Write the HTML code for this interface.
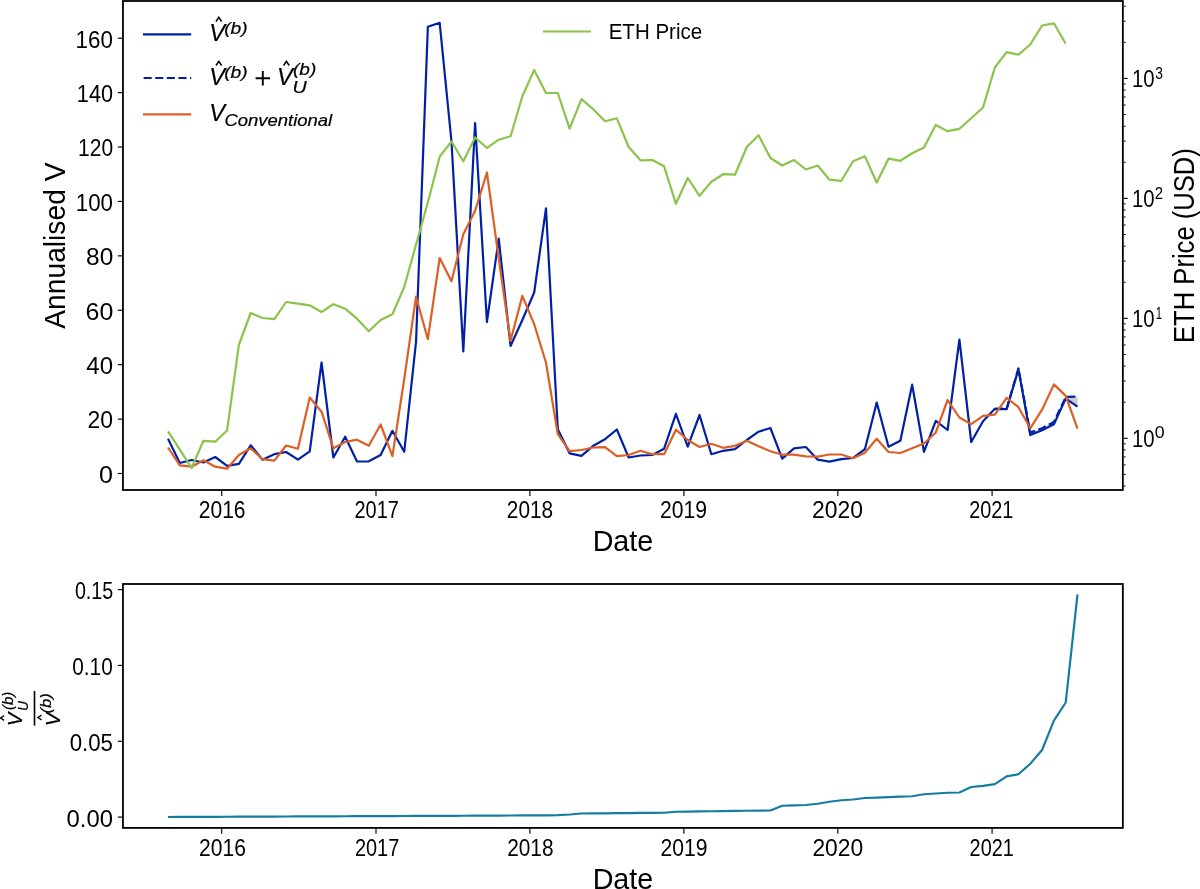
<!DOCTYPE html>
<html><head><meta charset="utf-8"><title>chart</title>
<style>
html,body{margin:0;padding:0;background:#fff;}
svg{display:block;will-change:transform;}
text{font-family:"Liberation Sans",sans-serif;fill:#000;}
.it{font-style:italic;stroke:#000;stroke-width:0.2px;}
</style></head><body>
<svg width="1200" height="889" viewBox="0 0 1200 889">
<rect x="0" y="0" width="1200" height="889" fill="#ffffff"/>
<polygon points="994.84,408.80 1006.65,409.20 1018.46,369.20 1030.28,435.10 1042.09,430.30 1053.90,424.30 1065.71,398.60 1077.52,406.70 1077.52,396.60 1065.71,397.00 1053.90,421.90 1042.09,428.30 1030.28,432.60 1018.46,368.40 1006.65,408.60 994.84,408.80" fill="#cccccc"/>
<polyline points="168.00,438.70 179.81,463.00 191.62,460.00 203.44,462.50 215.25,457.00 227.06,465.80 238.87,463.80 250.68,445.30 262.50,459.70 274.31,454.20 286.12,452.00 297.93,459.70 309.74,451.30 321.56,362.50 333.37,457.50 345.18,436.70 356.99,461.50 368.80,461.30 380.62,455.00 392.43,430.80 404.24,451.70 416.05,341.70 427.86,26.70 439.68,22.80 451.49,141.50 463.30,351.50 475.11,123.00 486.92,322.00 498.74,238.70 510.55,346.00 522.36,320.00 534.17,292.50 545.98,208.30 557.80,429.20 569.61,453.30 581.42,455.80 593.23,445.80 605.04,439.20 616.86,429.50 628.67,457.50 640.48,455.50 652.29,455.00 664.10,448.70 675.92,413.80 687.73,446.70 699.54,415.00 711.35,454.20 723.16,450.80 734.98,449.20 746.79,440.00 758.60,431.70 770.41,428.00 782.22,458.70 794.04,448.30 805.85,447.00 817.66,459.70 829.47,461.70 841.28,459.20 853.10,458.00 864.91,449.20 876.72,402.50 888.53,446.70 900.34,440.80 912.16,384.70 923.97,451.80 935.78,420.80 947.59,430.00 959.40,339.50 971.22,442.00 983.03,421.20 994.84,408.80 1006.65,409.20 1018.46,369.20 1030.28,435.10 1042.09,430.30 1053.90,424.30 1065.71,398.60 1077.52,406.70" fill="none" stroke="#0021A5" stroke-width="2.2" stroke-linejoin="round" stroke-linecap="butt"/>
<polyline points="994.84,408.80 1006.65,408.60 1018.46,368.40 1030.28,432.60 1042.09,428.30 1053.90,421.90 1065.71,397.00 1077.52,396.60" fill="none" stroke="#0021A5" stroke-width="2.2" stroke-dasharray="8.1 3.5" stroke-linejoin="round"/>
<polyline points="168.00,447.50 179.81,465.30 191.62,466.70 203.44,460.30 215.25,466.70 227.06,468.70 238.87,455.00 250.68,448.30 262.50,459.20 274.31,460.70 286.12,445.50 297.93,448.70 309.74,397.50 321.56,411.70 333.37,448.30 345.18,442.00 356.99,439.70 368.80,445.80 380.62,424.50 392.43,456.20 404.24,379.00 416.05,296.70 427.86,339.20 439.68,258.00 451.49,281.30 463.30,234.20 475.11,210.80 486.92,172.50 498.74,258.50 510.55,340.80 522.36,295.80 534.17,324.20 545.98,362.50 557.80,434.20 569.61,451.20 581.42,450.00 593.23,447.50 605.04,447.20 616.86,456.20 628.67,455.00 640.48,450.80 652.29,454.20 664.10,454.20 675.92,429.70 687.73,440.00 699.54,447.00 711.35,443.80 723.16,447.80 734.98,445.80 746.79,440.80 758.60,446.20 770.41,451.20 782.22,454.70 794.04,454.70 805.85,456.30 817.66,456.70 829.47,454.50 841.28,454.50 853.10,458.30 864.91,452.80 876.72,438.80 888.53,452.00 900.34,453.00 912.16,448.30 923.97,443.50 935.78,432.50 947.59,400.00 959.40,417.50 971.22,424.20 983.03,415.80 994.84,414.70 1006.65,397.80 1018.46,407.20 1030.28,428.30 1042.09,409.70 1053.90,384.40 1065.71,395.90 1077.52,428.60" fill="none" stroke="#DC5F25" stroke-width="2.2" stroke-linejoin="round"/>
<polyline points="168.00,431.30 179.81,449.70 191.62,468.00 203.44,440.80 215.25,441.70 227.06,430.50 238.87,345.00 250.68,313.00 262.50,318.00 274.31,319.20 286.12,302.00 297.93,303.70 309.74,305.30 321.56,312.00 333.37,304.20 345.18,308.70 356.99,318.70 368.80,331.30 380.62,320.00 392.43,314.20 404.24,287.00 416.05,244.50 427.86,202.50 439.68,156.70 451.49,141.50 463.30,161.30 475.11,137.50 486.92,148.00 498.74,139.70 510.55,136.30 522.36,96.30 534.17,70.00 545.98,93.00 557.80,93.00 569.61,128.70 581.42,99.20 593.23,109.20 605.04,121.30 616.86,118.30 628.67,147.00 640.48,160.30 652.29,160.00 664.10,166.30 675.92,203.80 687.73,178.00 699.54,195.80 711.35,181.70 723.16,174.20 734.98,174.70 746.79,147.00 758.60,135.30 770.41,158.00 782.22,165.50 794.04,160.00 805.85,169.50 817.66,165.50 829.47,179.70 841.28,180.80 853.10,161.20 864.91,156.30 876.72,182.50 888.53,158.70 900.34,160.80 912.16,153.30 923.97,147.50 935.78,125.00 947.59,131.20 959.40,128.80 971.22,118.30 983.03,107.50 994.84,67.50 1006.65,52.20 1018.46,54.70 1030.28,44.50 1042.09,25.50 1053.90,23.30 1065.71,43.80" fill="none" stroke="#8CC34B" stroke-width="2.2" stroke-linejoin="round"/>
<polyline points="168.00,817.00 179.81,816.95 191.62,816.90 203.44,816.85 215.25,816.80 227.06,816.75 238.87,816.70 250.68,816.65 262.50,816.60 274.31,816.55 286.12,816.50 297.93,816.45 309.74,816.40 321.56,816.35 333.37,816.30 345.18,816.25 356.99,816.20 368.80,816.15 380.62,816.10 392.43,816.05 404.24,816.00 416.05,815.95 427.86,815.90 439.68,815.85 451.49,815.80 463.30,815.74 475.11,815.67 486.92,815.61 498.74,815.55 510.55,815.49 522.36,815.42 534.17,815.36 545.98,815.30 557.80,815.20 569.61,814.50 581.42,813.50 593.23,813.39 605.04,813.29 616.86,813.18 628.67,813.07 640.48,812.96 652.29,812.86 664.10,812.75 675.92,811.75 687.73,811.59 699.54,811.42 711.35,811.26 723.16,811.09 734.98,810.93 746.79,810.76 758.60,810.60 770.41,810.50 782.22,805.75 794.04,805.40 805.85,805.00 817.66,803.75 829.47,801.75 841.28,800.25 853.10,799.50 864.91,798.00 876.72,797.60 888.53,797.20 900.34,796.70 912.16,796.25 923.97,794.25 935.78,793.50 947.59,792.75 959.40,792.50 971.22,787.00 983.03,785.80 994.84,784.10 1006.65,776.40 1018.46,774.20 1030.28,763.70 1042.09,750.00 1053.90,720.60 1065.71,702.50 1077.52,594.40" fill="none" stroke="#147DA0" stroke-width="2.2" stroke-linejoin="round"/>
<rect x="122.95" y="1.0" width="999.8999999999999" height="489.0" fill="none" stroke="#000" stroke-width="1.8"/>
<rect x="122.95" y="584.0" width="999.8999999999999" height="243.89999999999998" fill="none" stroke="#000" stroke-width="1.8"/>
<line x1="117.80" y1="473.50" x2="122.05" y2="473.50" stroke="#000" stroke-width="1.15"/>
<text x="99.13" y="482.90" font-size="24.2" textLength="13.94" lengthAdjust="spacingAndGlyphs">0</text>
<line x1="117.80" y1="419.09" x2="122.05" y2="419.09" stroke="#000" stroke-width="1.15"/>
<text x="87.52" y="428.49" font-size="24.2" textLength="25.55" lengthAdjust="spacingAndGlyphs">20</text>
<line x1="117.80" y1="364.68" x2="122.05" y2="364.68" stroke="#000" stroke-width="1.15"/>
<text x="86.37" y="374.08" font-size="24.2" textLength="26.73" lengthAdjust="spacingAndGlyphs">40</text>
<line x1="117.80" y1="310.26" x2="122.05" y2="310.26" stroke="#000" stroke-width="1.15"/>
<text x="85.58" y="319.66" font-size="24.2" textLength="27.77" lengthAdjust="spacingAndGlyphs">60</text>
<line x1="117.80" y1="255.85" x2="122.05" y2="255.85" stroke="#000" stroke-width="1.15"/>
<text x="86.07" y="265.25" font-size="24.2" textLength="27.21" lengthAdjust="spacingAndGlyphs">80</text>
<line x1="117.80" y1="201.44" x2="122.05" y2="201.44" stroke="#000" stroke-width="1.15"/>
<text x="75.74" y="210.84" font-size="24.2" textLength="37.26" lengthAdjust="spacingAndGlyphs">100</text>
<line x1="117.80" y1="147.03" x2="122.05" y2="147.03" stroke="#000" stroke-width="1.15"/>
<text x="78.02" y="156.43" font-size="24.2" textLength="35.05" lengthAdjust="spacingAndGlyphs">120</text>
<line x1="117.80" y1="92.62" x2="122.05" y2="92.62" stroke="#000" stroke-width="1.15"/>
<text x="76.83" y="102.02" font-size="24.2" textLength="36.20" lengthAdjust="spacingAndGlyphs">140</text>
<line x1="117.80" y1="38.20" x2="122.05" y2="38.20" stroke="#000" stroke-width="1.15"/>
<text x="75.62" y="47.60" font-size="24.2" textLength="37.31" lengthAdjust="spacingAndGlyphs">160</text>
<line x1="221.70" y1="490.90" x2="221.70" y2="495.90" stroke="#000" stroke-width="1.15"/>
<line x1="221.70" y1="828.80" x2="221.70" y2="833.80" stroke="#000" stroke-width="1.15"/>
<text x="198.71" y="518.00" font-size="24.2" textLength="46.85" lengthAdjust="spacingAndGlyphs">2016</text>
<text x="199.01" y="855.80" font-size="24.2" textLength="46.87" lengthAdjust="spacingAndGlyphs">2016</text>
<line x1="376.00" y1="490.90" x2="376.00" y2="495.90" stroke="#000" stroke-width="1.15"/>
<line x1="376.00" y1="828.80" x2="376.00" y2="833.80" stroke="#000" stroke-width="1.15"/>
<text x="354.52" y="518.00" font-size="24.2" textLength="44.28" lengthAdjust="spacingAndGlyphs">2017</text>
<text x="354.91" y="855.80" font-size="24.2" textLength="44.30" lengthAdjust="spacingAndGlyphs">2017</text>
<line x1="529.90" y1="490.90" x2="529.90" y2="495.90" stroke="#000" stroke-width="1.15"/>
<line x1="529.90" y1="828.80" x2="529.90" y2="833.80" stroke="#000" stroke-width="1.15"/>
<text x="506.87" y="518.00" font-size="24.2" textLength="46.22" lengthAdjust="spacingAndGlyphs">2018</text>
<text x="507.20" y="855.80" font-size="24.2" textLength="46.36" lengthAdjust="spacingAndGlyphs">2018</text>
<line x1="683.90" y1="490.90" x2="683.90" y2="495.90" stroke="#000" stroke-width="1.15"/>
<line x1="683.90" y1="828.80" x2="683.90" y2="833.80" stroke="#000" stroke-width="1.15"/>
<text x="660.12" y="518.00" font-size="24.2" textLength="46.97" lengthAdjust="spacingAndGlyphs">2019</text>
<text x="660.52" y="855.80" font-size="24.2" textLength="47.00" lengthAdjust="spacingAndGlyphs">2019</text>
<line x1="837.85" y1="490.90" x2="837.85" y2="495.90" stroke="#000" stroke-width="1.15"/>
<line x1="837.85" y1="828.80" x2="837.85" y2="833.80" stroke="#000" stroke-width="1.15"/>
<text x="811.99" y="518.00" font-size="24.2" textLength="50.96" lengthAdjust="spacingAndGlyphs">2020</text>
<text x="812.39" y="855.80" font-size="24.2" textLength="50.89" lengthAdjust="spacingAndGlyphs">2020</text>
<line x1="992.10" y1="490.90" x2="992.10" y2="495.90" stroke="#000" stroke-width="1.15"/>
<line x1="992.10" y1="828.80" x2="992.10" y2="833.80" stroke="#000" stroke-width="1.15"/>
<text x="969.22" y="518.00" font-size="24.2" textLength="44.20" lengthAdjust="spacingAndGlyphs">2021</text>
<text x="969.58" y="855.80" font-size="24.2" textLength="44.20" lengthAdjust="spacingAndGlyphs">2021</text>
<line x1="1123.75" y1="486.03" x2="1125.65" y2="486.03" stroke="#000" stroke-width="1.0"/>
<line x1="1123.75" y1="474.41" x2="1125.65" y2="474.41" stroke="#000" stroke-width="1.0"/>
<line x1="1123.75" y1="464.91" x2="1125.65" y2="464.91" stroke="#000" stroke-width="1.0"/>
<line x1="1123.75" y1="456.88" x2="1125.65" y2="456.88" stroke="#000" stroke-width="1.0"/>
<line x1="1123.75" y1="449.92" x2="1125.65" y2="449.92" stroke="#000" stroke-width="1.0"/>
<line x1="1123.75" y1="443.79" x2="1125.65" y2="443.79" stroke="#000" stroke-width="1.0"/>
<line x1="1123.75" y1="438.30" x2="1127.65" y2="438.30" stroke="#000" stroke-width="1.15"/>
<line x1="1123.75" y1="402.19" x2="1125.65" y2="402.19" stroke="#000" stroke-width="1.0"/>
<line x1="1123.75" y1="381.07" x2="1125.65" y2="381.07" stroke="#000" stroke-width="1.0"/>
<line x1="1123.75" y1="366.08" x2="1125.65" y2="366.08" stroke="#000" stroke-width="1.0"/>
<line x1="1123.75" y1="354.46" x2="1125.65" y2="354.46" stroke="#000" stroke-width="1.0"/>
<line x1="1123.75" y1="344.96" x2="1125.65" y2="344.96" stroke="#000" stroke-width="1.0"/>
<line x1="1123.75" y1="336.93" x2="1125.65" y2="336.93" stroke="#000" stroke-width="1.0"/>
<line x1="1123.75" y1="329.97" x2="1125.65" y2="329.97" stroke="#000" stroke-width="1.0"/>
<line x1="1123.75" y1="323.84" x2="1125.65" y2="323.84" stroke="#000" stroke-width="1.0"/>
<line x1="1123.75" y1="318.35" x2="1127.65" y2="318.35" stroke="#000" stroke-width="1.15"/>
<line x1="1123.75" y1="282.24" x2="1125.65" y2="282.24" stroke="#000" stroke-width="1.0"/>
<line x1="1123.75" y1="261.12" x2="1125.65" y2="261.12" stroke="#000" stroke-width="1.0"/>
<line x1="1123.75" y1="246.13" x2="1125.65" y2="246.13" stroke="#000" stroke-width="1.0"/>
<line x1="1123.75" y1="234.51" x2="1125.65" y2="234.51" stroke="#000" stroke-width="1.0"/>
<line x1="1123.75" y1="225.01" x2="1125.65" y2="225.01" stroke="#000" stroke-width="1.0"/>
<line x1="1123.75" y1="216.98" x2="1125.65" y2="216.98" stroke="#000" stroke-width="1.0"/>
<line x1="1123.75" y1="210.02" x2="1125.65" y2="210.02" stroke="#000" stroke-width="1.0"/>
<line x1="1123.75" y1="203.89" x2="1125.65" y2="203.89" stroke="#000" stroke-width="1.0"/>
<line x1="1123.75" y1="198.40" x2="1127.65" y2="198.40" stroke="#000" stroke-width="1.15"/>
<line x1="1123.75" y1="162.29" x2="1125.65" y2="162.29" stroke="#000" stroke-width="1.0"/>
<line x1="1123.75" y1="141.17" x2="1125.65" y2="141.17" stroke="#000" stroke-width="1.0"/>
<line x1="1123.75" y1="126.18" x2="1125.65" y2="126.18" stroke="#000" stroke-width="1.0"/>
<line x1="1123.75" y1="114.56" x2="1125.65" y2="114.56" stroke="#000" stroke-width="1.0"/>
<line x1="1123.75" y1="105.06" x2="1125.65" y2="105.06" stroke="#000" stroke-width="1.0"/>
<line x1="1123.75" y1="97.03" x2="1125.65" y2="97.03" stroke="#000" stroke-width="1.0"/>
<line x1="1123.75" y1="90.07" x2="1125.65" y2="90.07" stroke="#000" stroke-width="1.0"/>
<line x1="1123.75" y1="83.94" x2="1125.65" y2="83.94" stroke="#000" stroke-width="1.0"/>
<line x1="1123.75" y1="78.45" x2="1127.65" y2="78.45" stroke="#000" stroke-width="1.15"/>
<line x1="1123.75" y1="42.34" x2="1125.65" y2="42.34" stroke="#000" stroke-width="1.0"/>
<line x1="1123.75" y1="21.22" x2="1125.65" y2="21.22" stroke="#000" stroke-width="1.0"/>
<line x1="1123.75" y1="6.23" x2="1125.65" y2="6.23" stroke="#000" stroke-width="1.0"/>
<text x="1131.89" y="446.85" font-size="24.2" textLength="22.56" lengthAdjust="spacingAndGlyphs">10</text>
<text x="1154.86" y="438.45" font-size="17.0" textLength="9.85" lengthAdjust="spacingAndGlyphs">0</text>
<text x="1131.89" y="326.90" font-size="24.2" textLength="22.56" lengthAdjust="spacingAndGlyphs">10</text>
<text x="1155.85" y="318.50" font-size="17.0" textLength="6.34" lengthAdjust="spacingAndGlyphs">1</text>
<text x="1131.89" y="206.95" font-size="24.2" textLength="22.56" lengthAdjust="spacingAndGlyphs">10</text>
<text x="1154.86" y="198.55" font-size="17.0" textLength="8.34" lengthAdjust="spacingAndGlyphs">2</text>
<text x="1131.89" y="87.00" font-size="24.2" textLength="22.56" lengthAdjust="spacingAndGlyphs">10</text>
<text x="1155.22" y="78.60" font-size="17.0" textLength="7.70" lengthAdjust="spacingAndGlyphs">3</text>
<line x1="117.80" y1="817.10" x2="122.05" y2="817.10" stroke="#000" stroke-width="1.15"/>
<text x="66.53" y="826.50" font-size="24.2" textLength="46.45" lengthAdjust="spacingAndGlyphs">0.00</text>
<line x1="117.80" y1="741.26" x2="122.05" y2="741.26" stroke="#000" stroke-width="1.15"/>
<text x="69.67" y="750.66" font-size="24.2" textLength="43.33" lengthAdjust="spacingAndGlyphs">0.05</text>
<line x1="117.80" y1="665.43" x2="122.05" y2="665.43" stroke="#000" stroke-width="1.15"/>
<text x="72.24" y="674.83" font-size="24.2" textLength="40.49" lengthAdjust="spacingAndGlyphs">0.10</text>
<line x1="117.80" y1="589.60" x2="122.05" y2="589.60" stroke="#000" stroke-width="1.15"/>
<text x="74.89" y="599.00" font-size="24.2" textLength="38.33" lengthAdjust="spacingAndGlyphs">0.15</text>
<text x="592.64" y="551.00" font-size="29.3" textLength="60.63" lengthAdjust="spacingAndGlyphs">Date</text>
<text x="592.64" y="889.20" font-size="29.3" textLength="60.63" lengthAdjust="spacingAndGlyphs">Date</text>
<text x="64.60" y="328.77" font-size="29.3" textLength="166.30" lengthAdjust="spacingAndGlyphs" transform="rotate(-90 64.60 328.77)">Annualised V</text>
<text x="1193.70" y="342.96" font-size="29.3" textLength="194.84" lengthAdjust="spacingAndGlyphs" transform="rotate(-90 1193.70 342.96)">ETH Price (USD)</text>
<text x="608.69" y="39.30" font-size="22.8" textLength="93.40" lengthAdjust="spacingAndGlyphs">ETH Price</text>
<line x1="143" y1="34.4" x2="191.2" y2="34.4" stroke="#0021A5" stroke-width="2.2"/>
<line x1="143.6" y1="78.0" x2="191.2" y2="78.0" stroke="#0021A5" stroke-width="2.2" stroke-dasharray="8.1 3.5"/>
<line x1="143" y1="114.4" x2="191.2" y2="114.4" stroke="#DC5F25" stroke-width="2.2"/>
<line x1="543" y1="31.5" x2="591" y2="31.5" stroke="#8CC34B" stroke-width="2.2"/>
<text x="209.30" y="41.10" font-size="23.4" textLength="15.80" lengthAdjust="spacingAndGlyphs" class="it">V</text>
<polyline points="216.00,21.50 218.80,17.30 221.60,21.50" fill="none" stroke="#000" stroke-width="1.5"/>
<text x="224.20" y="33.80" font-size="16.4" textLength="23.60" lengthAdjust="spacingAndGlyphs" class="it">(b)</text>
<text x="209.30" y="85.10" font-size="23.4" textLength="15.80" lengthAdjust="spacingAndGlyphs" class="it">V</text>
<polyline points="216.00,65.50 218.80,61.30 221.60,65.50" fill="none" stroke="#000" stroke-width="1.5"/>
<text x="224.20" y="77.80" font-size="16.4" textLength="23.60" lengthAdjust="spacingAndGlyphs" class="it">(b)</text>
<path d="M255.6 78.3H270.0M262.8 71.1V85.5" stroke="#000" stroke-width="1.9" fill="none"/>
<text x="276.90" y="85.10" font-size="23.4" textLength="15.80" lengthAdjust="spacingAndGlyphs" class="it">V</text>
<polyline points="283.60,65.50 286.40,61.30 289.20,65.50" fill="none" stroke="#000" stroke-width="1.5"/>
<text x="292.40" y="92.60" font-size="16.4" textLength="14.20" lengthAdjust="spacingAndGlyphs" class="it">U</text>
<text x="293.00" y="75.40" font-size="16.4" textLength="23.40" lengthAdjust="spacingAndGlyphs" class="it">(b)</text>
<text x="209.30" y="121.40" font-size="23.4" textLength="15.80" lengthAdjust="spacingAndGlyphs" class="it">V</text>
<text x="224.40" y="125.60" font-size="16.4" textLength="107.80" lengthAdjust="spacingAndGlyphs" class="it">Conventional</text>
<g transform="translate(34.5,708.3) rotate(-90)">
<line x1="-17.3" y1="0" x2="17.3" y2="0" stroke="#000" stroke-width="1.6"/>
<text x="-17.90" y="-12.50" font-size="20.3" class="it" textLength="13.60" lengthAdjust="spacingAndGlyphs">V</text>
<polyline points="-12.10,-30.40 -9.70,-34.00 -7.30,-30.40" fill="none" stroke="#000" stroke-width="1.3"/>
<text x="-2.40" y="-6.80" font-size="14.2" class="it" textLength="9.60" lengthAdjust="spacingAndGlyphs">U</text>
<text x="-1.80" y="-21.60" font-size="14.2" class="it" textLength="18.40" lengthAdjust="spacingAndGlyphs">(b)</text>
<text x="-17.90" y="25.50" font-size="20.3" class="it" textLength="13.60" lengthAdjust="spacingAndGlyphs">V</text>
<polyline points="-11.60,7.00 -9.20,3.40 -6.80,7.00" fill="none" stroke="#000" stroke-width="1.3"/>
<text x="-5.20" y="16.60" font-size="14.2" class="it" textLength="20.40" lengthAdjust="spacingAndGlyphs">(b)</text>
</g>
</svg>
</body></html>
